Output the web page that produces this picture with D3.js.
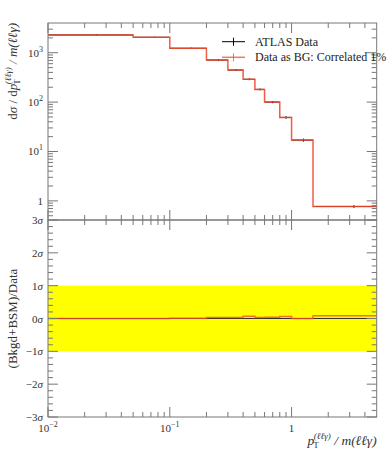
<!DOCTYPE html>
<meta charset="utf-8">
<script src="https://d3js.org/d3.v7.min.js"></script>
<style>
  body { margin: 0; background: #fff; }
  text { font-family: "Liberation Serif", "DejaVu Serif", serif; fill: #333; }
</style>
<div id="chart"></div>
<script>

// bins in pT/m
var binEdges   = [0.01, 0.05, 0.1, 0.2, 0.3, 0.4, 0.5, 0.6, 0.8, 1.0, 1.5, 5];
var binCenters = [0.025, 0.075, 0.15, 0.25, 0.35, 0.45, 0.55, 0.7, 0.9, 1.25, 3.25];
// measured cross section and its error
var xsec    = [2290, 2050, 1230, 710, 446, 289, 181, 100, 49, 17, 0.77];
var xsecErr = [60, 60, 40, 25, 18, 12, 8, 5, 3, 1.2, 0.05];
// (Bkgd+BSM)/Data pull in sigma
var pull    = [0, 0, 0.01, 0.03, 0.03, 0.07, 0.03, 0.04, 0.06, 0, 0.08];

var yTopTicks = [1, 10, 100, 1000];
var yTopLabels = [["1", ""], ["10", "1"], ["10", "2"], ["10", "3"]];
var sigmaTicks = [3, 2, 1, 0, -1, -2, -3];
var xTicks = [0.01, 0.1, 1];
var xLabels = [["10", "\u22122"], ["10", "\u22121"], ["1", ""]];

var W = 389, H = 450;
var L = 48, R = 376.7, T = 23, M = 220, B = 417;
var red = "#f04a30", frame = "#777";

var svg = d3.select("#chart").append("svg")
  .attr("width", W).attr("height", H);

var x = d3.scaleLog().domain([0.01, 5]).range([L, R]);
var yTop = d3.scaleLog().domain([0.41, 4000]).range([M, T]);
var yBot = d3.scaleLinear().domain([-3, 3]).range([B, M]);

// yellow 1 sigma band
svg.append("rect")
  .attr("x", x(0.01)).attr("y", yBot(1))
  .attr("width", x(5) - x(0.01)).attr("height", yBot(-1) - yBot(1))
  .attr("fill", "#ffff00");

// step path helper
function steps(vals, y) {
  var p = d3.path();
  vals.forEach(function(v, i) {
    if (i == 0) p.moveTo(x(binEdges[0]), y(v));
    else p.lineTo(x(binEdges[i]), y(v));
    p.lineTo(x(binEdges[i + 1]), y(v));
  });
  return p.toString();
}

// data points (black) in the top panel
var pts = svg.append("g").attr("stroke", "#000").attr("stroke-width", 1);
xsec.forEach(function(v, i) {
  pts.append("line")
    .attr("x1", x(binEdges[i])).attr("x2", x(binEdges[i + 1]))
    .attr("y1", yTop(v)).attr("y2", yTop(v));
  pts.append("line")
    .attr("x1", x(binCenters[i])).attr("x2", x(binCenters[i]))
    .attr("y1", yTop(v - xsecErr[i])).attr("y2", yTop(v + xsecErr[i]));
});
// data reference line in the ratio
svg.append("line")
  .attr("x1", x(0.01)).attr("x2", x(5))
  .attr("y1", yBot(0)).attr("y2", yBot(0))
  .attr("stroke", "#333").attr("stroke-width", 1);

svg.append("path").attr("d", steps(xsec, yTop))
  .attr("fill", "none").attr("stroke", red).attr("stroke-width", 1.5).attr("stroke-opacity", 0.9);
svg.append("path").attr("d", steps(pull, yBot))
  .attr("fill", "none").attr("stroke", red).attr("stroke-width", 1.5).attr("stroke-opacity", 0.8);

// frames
[[T, M], [M, B]].forEach(function(r) {
  svg.append("rect").attr("x", L).attr("y", r[0])
    .attr("width", R - L).attr("height", r[1] - r[0])
    .attr("fill", "none").attr("stroke", frame).attr("stroke-width", 1);
});

var ticks = svg.append("g").attr("stroke", frame).attr("stroke-width", 1);
function tick(x1, y1, x2, y2) {
  ticks.append("line").attr("x1", x1).attr("y1", y1).attr("x2", x2).attr("y2", y2);
}

// x ticks on both panels, top and bottom edges
var xMinor = [];
[0.01, 0.1, 1].forEach(function(d) {
  for (var k = 2; k <= 9; k++) if (d * k < 5) xMinor.push(d * k);
});
[T, M, B].forEach(function(yy) {
  xTicks.forEach(function(v) {
    if (yy != B) tick(x(v), yy, x(v), yy + 10);
    if (yy != T) tick(x(v), yy, x(v), yy - 10);
  });
  xMinor.forEach(function(v) {
    if (yy != B) tick(x(v), yy, x(v), yy + 5);
    if (yy != T) tick(x(v), yy, x(v), yy - 5);
  });
});

// y ticks, top panel
var yMinor = [];
[0.1, 1, 10, 100, 1000].forEach(function(d) {
  for (var k = 2; k <= 9; k++) {
    var v = d * k;
    if (v > 0.41 && v < 4000) yMinor.push(v);
  }
});
yTopTicks.forEach(function(v) {
  tick(L, yTop(v), L + 10, yTop(v));
  tick(R, yTop(v), R - 10, yTop(v));
});
yMinor.forEach(function(v) {
  tick(L, yTop(v), L + 5, yTop(v));
  tick(R, yTop(v), R - 5, yTop(v));
});

// y ticks, ratio panel
d3.range(-3, 3.001, 0.2).forEach(function(v) {
  var major = Math.abs(v - Math.round(v)) < 1e-6;
  var len = major ? 10 : 5;
  tick(L, yBot(v), L + len, yBot(v));
  tick(R, yBot(v), R - len, yBot(v));
});

// tick labels
function supLabel(g, parts) {
  g.append("tspan").text(parts[0]);
  if (parts[1]) g.append("tspan").attr("dy", -5).attr("font-size", "8px").text(parts[1]);
}
yTopTicks.forEach(function(v, i) {
  var t = svg.append("text").attr("x", 43).attr("y", yTop(v) + 4)
    .attr("text-anchor", "end").attr("font-size", "11px");
  supLabel(t, yTopLabels[i]);
});
sigmaTicks.forEach(function(v) {
  var t = svg.append("text").attr("x", 43).attr("y", yBot(v) + 4)
    .attr("text-anchor", "end").attr("font-size", "11px");
  t.append("tspan").text(v < 0 ? "\u2212" + (-v) : v);
  t.append("tspan").attr("font-style", "italic").text("\u03c3");
});
xTicks.forEach(function(v, i) {
  var t = svg.append("text").attr("x", x(v)).attr("y", B + 15)
    .attr("text-anchor", "middle").attr("font-size", "11px");
  supLabel(t, xLabels[i]);
});

// axis titles
var xt = svg.append("text").attr("x", R).attr("y", B + 28)
  .attr("text-anchor", "end").attr("font-size", "13.5px").attr("font-style", "italic");
xt.append("tspan").text("p");
xt.append("tspan").attr("font-size", "9px").attr("font-style", "normal").attr("dy", 3).attr("dx", -1).text("T");
xt.append("tspan").attr("font-size", "9px").attr("dy", -9).attr("dx", -5).text("(\u2113\u2113\u03b3)");
xt.append("tspan").attr("dy", 6).text(" / m(\u2113\u2113\u03b3)");

var yt = svg.append("text").attr("transform", "translate(17," + T + ") rotate(-90)")
  .attr("text-anchor", "end").attr("font-size", "13px");
yt.append("tspan").text("d");
yt.append("tspan").attr("font-style", "italic").text("\u03c3");
yt.append("tspan").text(" / d");
yt.append("tspan").attr("font-style", "italic").text("p");
yt.append("tspan").attr("font-size", "9px").attr("dy", 3).attr("dx", -1).text("T");
yt.append("tspan").attr("font-size", "9px").attr("font-style", "italic").attr("dy", -9).attr("dx", -5).text("(\u2113\u2113\u03b3)");
yt.append("tspan").attr("font-style", "italic").attr("dy", 6).text(" / m(\u2113\u2113\u03b3)");

svg.append("text").attr("transform", "translate(17," + ((M + B) / 2) + ") rotate(-90)")
  .attr("text-anchor", "middle").attr("font-size", "13px")
  .text("(Bkgd+BSM)/Data");

// legend
var legend = [["ATLAS Data", "#000", 1], ["Data as BG: Correlated 1%", red, 0.75]];
legend.forEach(function(d, i) {
  var cy = 41.7 + i * 15.6;
  svg.append("line").attr("x1", 222).attr("x2", 245).attr("y1", cy).attr("y2", cy)
    .attr("stroke", d[1]).attr("stroke-opacity", d[2]).attr("stroke-width", i ? 1.5 : 1);
  svg.append("line").attr("x1", 233.5).attr("x2", 233.5).attr("y1", cy - 4).attr("y2", cy + 4)
    .attr("stroke", d[1]).attr("stroke-opacity", d[2]).attr("stroke-width", 1);
  svg.append("text").attr("x", 255).attr("y", cy + 4)
    .attr("font-size", "12px").style("fill", "#222").text(d[0]);
});

</script>
